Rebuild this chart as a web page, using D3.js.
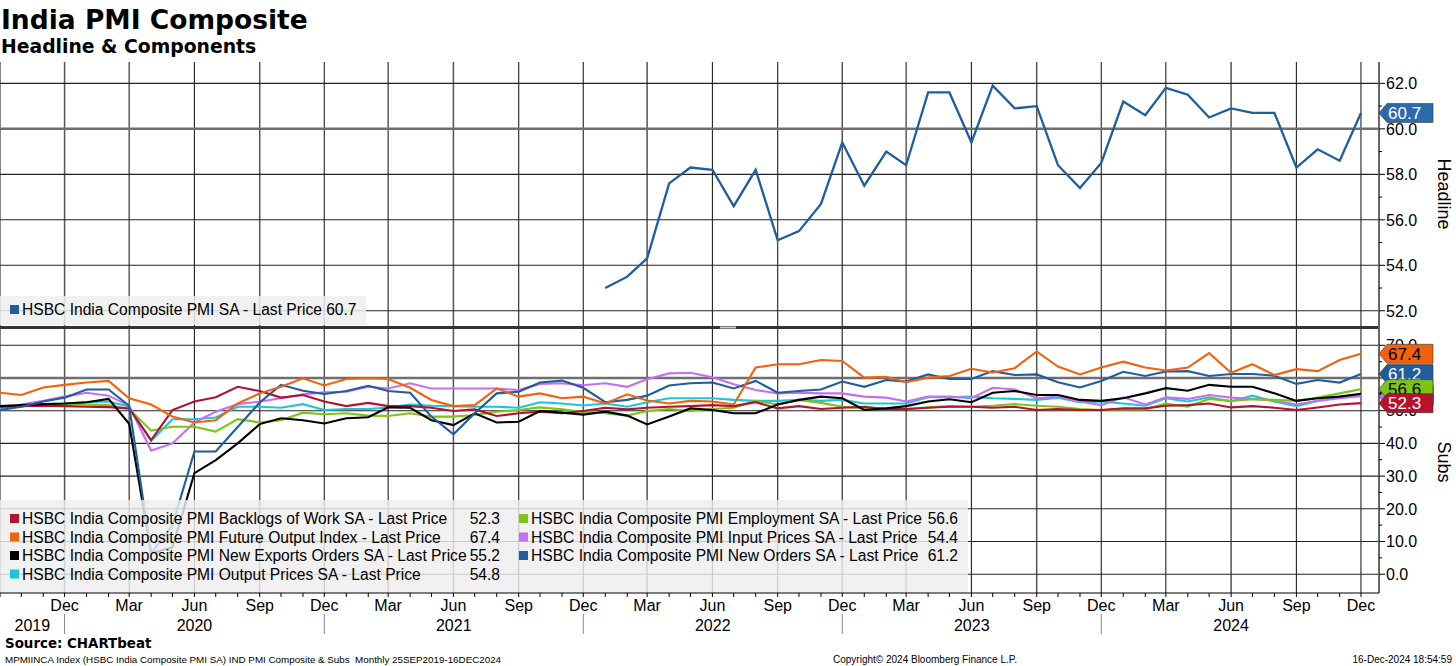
<!DOCTYPE html>
<html>
<head>
<meta charset="utf-8">
<script src="https://cdn.jsdelivr.net/npm/d3@7"></script>
<style>
  body { margin: 0; background: #fff; }
  svg text { font-family: "Liberation Sans", Arial, sans-serif; fill: #000; }
</style>
</head>
<body>
<svg id="chart" width="1456" height="666"></svg>
<script>
// months on the x axis: Sep 2019 .. Dec 2024
const months = d3.timeMonth.range(new Date(2019, 8, 1), new Date(2025, 0, 1));

// headline series starts Jan 2022
const headlineStart = new Date(2022, 0, 1);
const headline = [53.0, 53.5, 54.3, 57.6, 58.3, 58.2, 56.6, 58.2, 55.1, 55.5, 56.7, 59.4,
                  57.5, 59.0, 58.4, 61.6, 61.6, 59.4, 61.9, 60.9, 61.0, 58.4, 57.4, 58.5,
                  61.2, 60.6, 61.8, 61.5, 60.5, 60.9, 60.7, 60.7, 58.3, 59.1, 58.6, 60.7];

const backlogs = [51.2, 51.4, 51.5, 51.4, 51.2, 51.1, 50.7, 41.0, 50.2, 52.8, 54.1, 57.3, 56.0, 54.0,
                  54.8, 52.8, 51.4, 52.4, 51.4, 51.4, 50.9, 49.9, 50.4, 48.4, 49.2, 49.7, 49.2, 49.9,
                  50.9, 50.4, 50.9, 51.2, 51.4, 51.7, 51.4, 52.6, 50.7, 51.4, 50.5, 50.9,
                  51.2, 50.5, 50.5, 50.9, 51.2, 51.2, 50.9, 51.2, 50.2, 50.5, 50.2, 50.2, 50.7, 50.7, 51.5,
                  51.7, 52.2, 51.0, 51.4, 50.9, 50.2, 51.0, 51.9, 52.3];
const futureOutput = [55.5, 54.8, 57.1, 57.9, 58.6, 59.1, 53.8, 51.9, 48.2, 46.4, 47.1, 52.2, 55.3, 57.3,
                  59.9, 57.7, 59.7, 59.9, 59.7, 57.0, 53.3, 51.4, 51.7, 56.8, 54.3, 55.3, 53.8, 54.3,
                  52.2, 55.0, 53.1, 52.2, 53.0, 52.8, 51.9, 63.2, 64.2, 64.2, 65.5, 65.2,
                  60.1, 60.4, 58.7, 60.1, 60.6, 62.8, 61.7, 63.0, 68.1, 63.5, 61.1, 63.2, 65.0, 63.2, 62.3,
                  63.2, 67.6, 61.6, 64.2, 60.9, 62.7, 62.1, 65.5, 67.4];
const exportOrders = [51.4, 51.7, 52.0, 52.2, 52.6, 53.6, 46.0, 6.4, 8.2, 30.9, 34.9, 40.0, 45.9, 47.7,
                  47.1, 46.1, 47.7, 48.0, 51.0, 50.9, 47.1, 45.6, 49.2, 46.4, 46.6, 49.9, 49.4, 48.8,
                  49.7, 48.5, 45.8, 48.2, 50.7, 50.2, 49.2, 49.2, 51.9, 53.3, 54.3, 53.8,
                  50.2, 50.7, 51.4, 52.8, 53.5, 52.6, 55.5, 56.0, 54.8, 54.8, 53.3, 53.0, 53.8, 55.3, 56.9,
                  56.1, 57.9, 57.3, 57.3, 55.3, 53.0, 53.8, 54.3, 55.2];
const outputPrices = [50.7, 51.4, 51.9, 52.2, 52.6, 52.8, 51.2, 40.8, 47.4, 47.4, 47.9, 51.2, 51.2, 50.9,
                  52.0, 50.2, 50.5, 50.5, 51.0, 51.9, 51.5, 51.4, 51.2, 51.2, 50.9, 52.6, 52.2, 51.6,
                  52.2, 51.2, 52.6, 53.8, 53.8, 53.8, 53.3, 53.0, 53.0, 53.3, 53.0, 53.3,
                  52.2, 52.2, 52.2, 54.1, 54.1, 54.3, 53.8, 53.6, 53.3, 54.0, 52.6, 52.8, 52.2, 51.5, 53.8,
                  52.8, 54.1, 52.8, 54.6, 52.8, 51.4, 53.0, 54.3, 54.8];
const employment = [51.2, 51.4, 51.7, 51.9, 51.9, 51.7, 50.5, 43.9, 45.1, 45.1, 43.6, 47.4, 46.4, 47.1,
                  49.4, 48.9, 49.2, 48.5, 48.4, 49.2, 48.2, 48.2, 48.7, 49.7, 50.2, 51.0, 50.4, 49.6,
                  49.2, 48.5, 49.9, 50.5, 49.9, 50.5, 50.9, 53.0, 51.9, 53.3, 52.4, 51.2,
                  50.7, 50.7, 50.5, 51.0, 51.4, 51.2, 51.5, 52.0, 51.5, 51.2, 50.5, 50.2, 50.4, 50.4, 52.2,
                  51.2, 53.6, 53.0, 53.5, 53.3, 53.0, 54.0, 55.3, 56.6];
const inputPrices = [50.2, 51.9, 53.0, 54.3, 55.5, 54.6, 51.5, 37.8, 40.0, 46.4, 49.7, 52.0, 52.8, 53.8,
                  55.0, 55.6, 55.8, 57.3, 56.8, 58.4, 56.8, 56.8, 56.8, 56.8, 56.3, 58.2, 58.4, 57.8,
                  58.4, 57.3, 59.6, 61.4, 61.6, 60.2, 58.1, 56.3, 55.3, 55.5, 55.3, 55.3,
                  54.3, 54.0, 52.8, 54.3, 54.3, 53.8, 57.0, 56.5, 53.8, 54.3, 52.8, 51.7, 54.1, 51.9, 54.1,
                  53.6, 54.8, 54.0, 53.6, 53.1, 51.9, 53.0, 53.8, 54.4];
const newOrders = [50.2, 51.2, 52.8, 54.0, 56.5, 56.5, 51.5, 6.4, 15.0, 37.5, 37.5, 45.0, 52.5, 57.9,
                  56.1, 55.1, 56.0, 57.6, 56.0, 55.5, 48.2, 42.8, 49.2, 55.3, 55.8, 58.6, 59.2, 57.0,
                  52.6, 53.3, 54.6, 57.7, 58.4, 58.6, 56.8, 59.1, 55.5, 56.0, 56.5, 58.9,
                  57.3, 59.4, 58.9, 61.1, 59.7, 59.7, 62.1, 60.9, 61.1, 58.7, 57.1, 59.1, 61.9, 60.6, 62.0,
                  62.1, 60.6, 61.2, 61.2, 60.7, 58.2, 59.4, 58.6, 61.2];

const topTicks = [52, 54, 56, 58, 60, 62];
const bottomTicks = [0, 10, 20, 30, 40, 50, 60, 70];
const years = ["2019", "2020", "2021", "2022", "2023", "2024"];

// series table: legend column/row, colours, whether the value tag is left visible on the axis
const subs = [
  {name: "HSBC India Composite PMI Backlogs of Work SA - Last Price", values: backlogs, color: "#b3132c", text: "#fff", col: 0, row: 0, shown: true},
  {name: "HSBC India Composite PMI Future Output Index - Last Price", values: futureOutput, color: "#f2620d", text: "#000", col: 0, row: 1, shown: true},
  {name: "HSBC India Composite PMI New Exports Orders SA - Last Price", values: exportOrders, color: "#000000", text: "#fff", col: 0, row: 2, shown: false},
  {name: "HSBC India Composite PMI Output Prices SA - Last Price", values: outputPrices, color: "#1cc6d6", text: "#000", col: 0, row: 3, shown: false},
  {name: "HSBC India Composite PMI Employment SA - Last Price", values: employment, color: "#7cc416", text: "#000", col: 1, row: 0, shown: true},
  {name: "HSBC India Composite PMI Input Prices SA - Last Price", values: inputPrices, color: "#c570f0", text: "#000", col: 1, row: 1, shown: false},
  {name: "HSBC India Composite PMI New Orders SA - Last Price", values: newOrders, color: "#1f5d9e", text: "#fff", col: 1, row: 2, shown: true}
];
// draw order so that the lines and tags stack like the original
const lineOrder = [3, 5, 4, 0, 2, 6, 1];
const tagOrder = [3, 2, 5, 1, 6, 4, 0];

const svg = d3.select('#chart');
const plotRight = 1378;
const fmt = d3.format('.1f');

const x = d3.scaleTime()
  .domain([new Date(2019, 8, 1), new Date(2024, 11, 25)])
  .range([0, plotRight]);

const yTop = d3.scaleLinear().domain([51.33, 62.94]).range([326, 62]);
const yBot = d3.scaleLinear().domain([-5.75, 74.37]).range([593, 331]);

// titles
svg.append('text').attr('x', 1).attr('y', 29)
  .style('font-family', '"DejaVu Sans", Verdana, sans-serif')
  .style('font-weight', 'bold').style('font-size', '26.5px')
  .text('India PMI Composite');
svg.append('text').attr('x', 1).attr('y', 53)
  .style('font-family', '"DejaVu Sans", Verdana, sans-serif')
  .style('font-weight', 'bold').style('font-size', '18.8px')
  .text('Headline & Components');

// gridlines
const grid = svg.append('g');
const quarterMonths = months.filter(d => d.getMonth() % 3 === 2);

grid.selectAll('line.v')
  .data(quarterMonths)
  .join('line')
    .attr('class', 'v')
    .attr('x1', d => x(d)).attr('x2', d => x(d))
    .attr('y1', 62).attr('y2', 593)
    .attr('stroke', (d, i) => i % 3 === 1 ? '#555' : '#222')
    .attr('stroke-width', (d, i) => i % 3 === 1 ? 1.5 : 1.1);

function hGrid(scale, ticks) {
  grid.selectAll(null)
    .data(ticks)
    .join('line')
      .attr('x1', 0).attr('x2', plotRight)
      .attr('y1', d => scale(d)).attr('y2', d => scale(d))
      .attr('stroke', d => d === 60 ? '#6f6f6f' : '#222')
      .attr('stroke-width', d => d === 60 ? 2.5 : 1.1);
}
hGrid(yTop, topTicks);
hGrid(yBot, bottomTicks);

// lines
const lineTop = d3.line()
  .x((d, i) => x(d3.timeMonth.offset(headlineStart, i)))
  .y(d => yTop(d));

svg.append('path')
  .datum(headline)
  .attr('fill', 'none')
  .attr('stroke', '#1f5d9e')
  .attr('stroke-width', 2.3)
  .attr('d', lineTop);

const lineBot = d3.line()
  .x((d, i) => x(months[i]))
  .y(d => yBot(d));

svg.append('g').selectAll('path')
  .data(lineOrder.map(i => subs[i]))
  .join('path')
    .attr('fill', 'none')
    .attr('stroke', d => d.color)
    .attr('stroke-width', 2.1)
    .attr('d', d => lineBot(d.values));

// panel separator
svg.append('rect').attr('x', 0).attr('y', 326).attr('width', plotRight).attr('height', 3).attr('fill', '#333');
svg.append('rect').attr('x', 720).attr('y', 326.5).attr('width', 16).attr('height', 2).attr('fill', '#ccc');

// legends (semi transparent boxes)
const legFont = '15.6px';
const legTop = svg.append('g');
legTop.append('rect').attr('x', 0).attr('y', 296).attr('width', 366).attr('height', 29)
  .attr('fill', '#eeeeee').attr('fill-opacity', 0.85);
legTop.append('rect').attr('x', 10).attr('y', 305).attr('width', 9).attr('height', 9).attr('fill', '#1f5d9e');
legTop.append('text').attr('x', 22).attr('y', 315).style('font-size', legFont)
  .text('HSBC India Composite PMI SA - Last Price ' + fmt(headline[headline.length - 1]));

const legBot = svg.append('g');
legBot.append('rect').attr('x', 0).attr('y', 500).attr('width', 968).attr('height', 93)
  .attr('fill', '#eeeeee').attr('fill-opacity', 0.82);

const colX = [10, 519];
const valX = [500, 958];
const rowY = [524, 542.5, 561, 579.5];
const items = legBot.selectAll('g.item')
  .data(subs)
  .join('g')
    .attr('class', 'item');
items.append('rect')
  .attr('x', d => colX[d.col]).attr('y', d => rowY[d.row] - 10)
  .attr('width', 9).attr('height', 9)
  .attr('fill', d => d.color);
items.append('text')
  .attr('x', d => colX[d.col] + 12).attr('y', d => rowY[d.row])
  .style('font-size', legFont)
  .text(d => d.name);
items.append('text')
  .attr('x', d => valX[d.col]).attr('y', d => rowY[d.row])
  .attr('text-anchor', 'end')
  .style('font-size', legFont)
  .text(d => fmt(d.values[d.values.length - 1]));

// right axes
const axisG = svg.append('g');
axisG.append('line').attr('x1', plotRight + 1).attr('x2', plotRight + 1)
  .attr('y1', 62).attr('y2', 593).attr('stroke', '#000').attr('stroke-width', 1.2);

function rightAxis(scale, ticks, step, lo, hi) {
  const minor = d3.range(lo, hi + 0.001, step);
  axisG.selectAll(null).data(minor).join('line')
    .attr('x1', plotRight + 1).attr('x2', d => plotRight + (ticks.includes(d) ? 7 : 4))
    .attr('y1', d => scale(d)).attr('y2', d => scale(d))
    .attr('stroke', '#000');
  axisG.selectAll(null).data(ticks).join('text')
    .attr('x', plotRight + 8).attr('y', d => scale(d)).attr('dy', '0.36em')
    .style('font-size', '16px')
    .text(d => fmt(d));
}
rightAxis(yTop, topTicks, 1, 52, 62);
rightAxis(yBot, bottomTicks, 5, 0, 70);

axisG.append('text')
  .attr('transform', `translate(1438, ${(62 + 326) / 2}) rotate(90)`)
  .attr('text-anchor', 'middle').style('font-size', '18px').text('Headline');
axisG.append('text')
  .attr('transform', `translate(1438, ${(331 + 593) / 2}) rotate(90)`)
  .attr('text-anchor', 'middle').style('font-size', '18px').text('Subs');

// last value tags (hidden ones only show as a sliver behind the others)
function tag(g, cy, color, textColor, label) {
  const x0 = plotRight + 1;
  g.append('path')
    .attr('d', `M${x0},${cy} L${x0 + 8},${cy - 9.5} L${x0 + 54},${cy - 9.5} L${x0 + 54},${cy + 9.5} L${x0 + 8},${cy + 9.5} Z`)
    .attr('fill', color).attr('stroke', '#333').attr('stroke-width', 0.6);
  if (label) {
    g.append('text').attr('x', x0 + 9).attr('y', cy).attr('dy', '0.36em')
      .style('font-size', '17px').style('fill', textColor).text(label);
  }
}
const tags = svg.append('g');
tag(tags, yTop(headline[headline.length - 1]), '#2d6aab', '#fff', fmt(headline[headline.length - 1]));
tagOrder.forEach(i => {
  const s = subs[i];
  const v = s.values[s.values.length - 1];
  tag(tags, yBot(v), s.color, s.text, s.shown ? fmt(v) : null);
});

// bottom time axis
const xAxisG = svg.append('g');
xAxisG.append('line').attr('x1', 0).attr('x2', plotRight + 1).attr('y1', 593).attr('y2', 593)
  .attr('stroke', '#000').attr('stroke-width', 1.2);
xAxisG.selectAll(null).data(months).join('line')
  .attr('x1', d => x(d)).attr('x2', d => x(d))
  .attr('y1', 593).attr('y2', 597)
  .attr('stroke', '#000');
xAxisG.selectAll(null).data(quarterMonths.filter(d => +d > +months[0])).join('text')
  .attr('x', d => x(d)).attr('y', 611)
  .attr('text-anchor', 'middle')
  .style('font-size', '16px')
  .text(d => d3.timeFormat('%b')(d));

const yearBreaks = years.slice(0, -1).map(y => new Date(+y, 11, 1));
xAxisG.selectAll(null).data(yearBreaks).join('line')
  .attr('x1', d => x(d)).attr('x2', d => x(d))
  .attr('y1', 614).attr('y2', 634)
  .attr('stroke', '#888');
const yearEdges = [months[0], ...yearBreaks, months[months.length - 1]];
xAxisG.selectAll(null).data(years).join('text')
  .attr('x', (d, i) => (x(yearEdges[i]) + x(yearEdges[i + 1])) / 2)
  .attr('y', 631)
  .attr('text-anchor', 'middle')
  .style('font-size', '16px')
  .text(d => d);

// footer
svg.append('text').attr('x', 5).attr('y', 648)
  .style('font-family', '"DejaVu Sans", Verdana, sans-serif')
  .style('font-weight', 'bold').style('font-size', '13.4px')
  .text('Source: CHARTbeat');
svg.append('text').attr('x', 5).attr('y', 663).style('font-size', '9.8px')
  .attr('xml:space', 'preserve')
  .text('MPMIINCA Index (HSBC India Composite PMI SA) IND PMI Composite & Subs  Monthly 25SEP2019-16DEC2024');
svg.append('text').attr('x', 833).attr('y', 663).style('font-size', '10px')
  .text('Copyright© 2024 Bloomberg Finance L.P.');
svg.append('text').attr('x', 1452).attr('y', 663).attr('text-anchor', 'end').style('font-size', '10px')
  .text('16-Dec-2024 18:54:59');
</script>
</body>
</html>
